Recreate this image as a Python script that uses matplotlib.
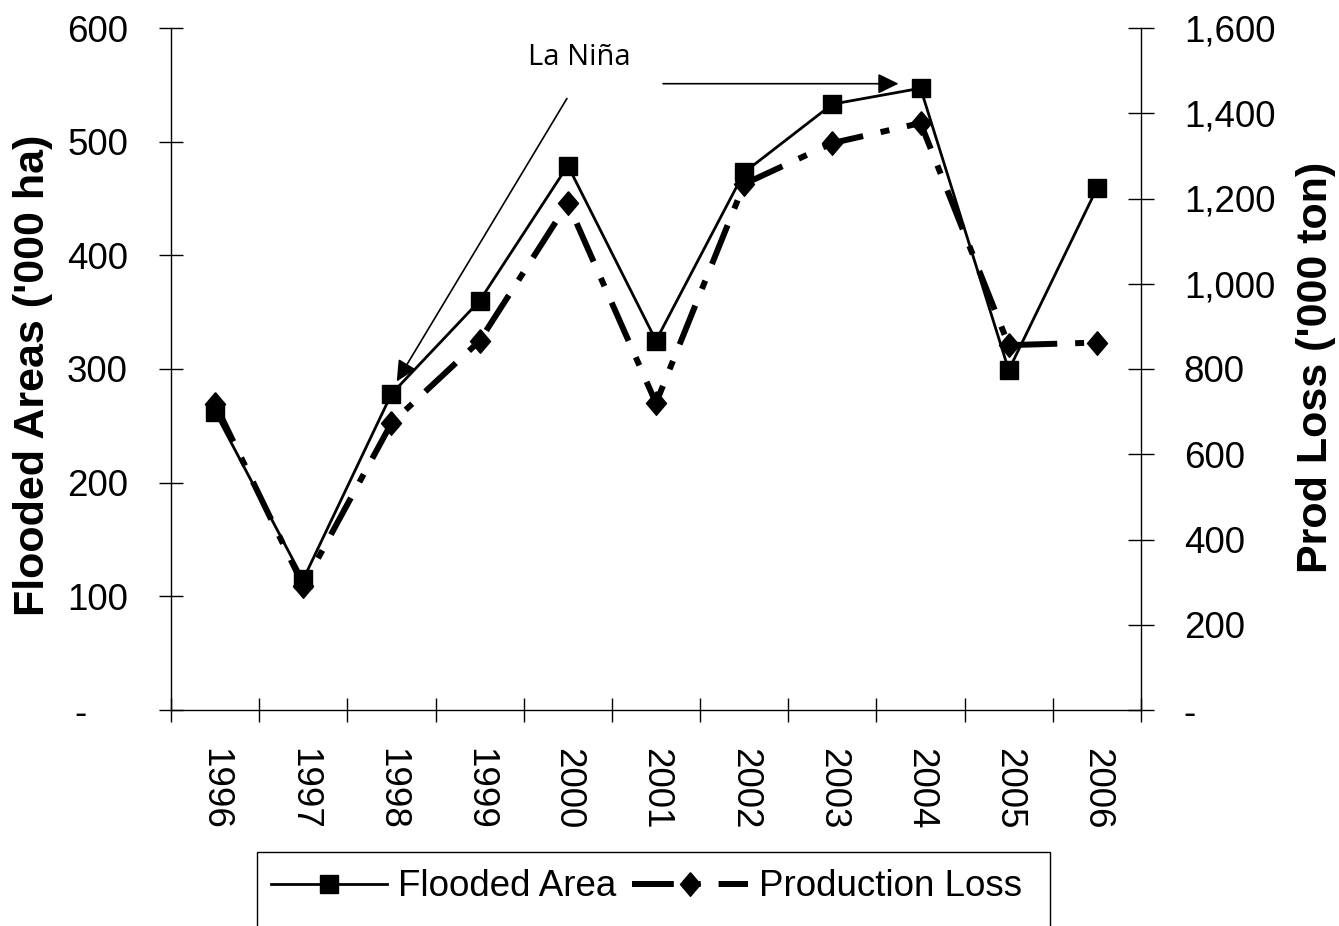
import numpy as np
import matplotlib
matplotlib.use("Agg")
import matplotlib.pyplot as plt
from matplotlib.patches import Rectangle
from matplotlib.ticker import FixedLocator, FuncFormatter

# Data
years = ["1996", "1997", "1998", "1999", "2000", "2001",
         "2002", "2003", "2004", "2005", "2006"]
flooded_area = [262, 115, 278, 360, 479, 325, 473, 533, 547, 299, 459]      # '000 ha
production_loss = [718, 292, 673, 866, 1189, 720, 1234, 1330, 1377, 856, 862]  # '000 ton
left_ticks = [0, 100, 200, 300, 400, 500, 600]
right_ticks = [0, 200, 400, 600, 800, 1000, 1200, 1400, 1600]

plt.rcParams['font.family'] = ['Liberation Sans', 'DejaVu Sans']

W, H = 1339, 926
fig = plt.figure(figsize=(W / 100, H / 100), dpi=100)
fig.patch.set_facecolor('white')

left_px, right_px, top_px, bottom_px = 171, 1141, 28, 710
ax = fig.add_axes([left_px / W, 1 - bottom_px / H,
                   (right_px - left_px) / W, (bottom_px - top_px) / H])
ax2 = ax.twinx()

x = np.arange(len(years))
ax.set_xlim(-0.5, len(years) - 0.5)
ax.set_ylim(0, 600)
ax2.set_ylim(0, 1600)

# Spines
for s in ['top', 'right']:
    ax.spines[s].set_visible(False)
for s in ['top', 'left', 'bottom']:
    ax2.spines[s].set_visible(False)
ax.spines['left'].set_linewidth(1.0)
ax.spines['bottom'].set_linewidth(1.0)
ax2.spines['right'].set_linewidth(1.0)

# Category axis: ticks between years, labels centred on years
ax.xaxis.set_major_locator(FixedLocator(np.arange(-0.5, len(years), 1.0)))
ax.xaxis.set_minor_locator(FixedLocator(x))
ax.xaxis.set_major_formatter(FuncFormatter(lambda v, p: ""))
ax.set_xticks(x, years, minor=True)
ax.tick_params(axis='x', which='major', direction='inout', length=17, width=1.0)
ax.tick_params(axis='x', which='minor', direction='out', length=0, pad=27,
               labelsize=26.5, labelrotation=-90)

# Value axes
ax.set_yticks(left_ticks)
ax.yaxis.set_major_formatter(FuncFormatter(
    lambda v, p: "-\u2007\u2007" if v == 0 else f"{v:,.0f}"))
ax.tick_params(axis='y', direction='inout', length=17, width=1.0,
               pad=22.5, labelsize=26.5)

ax2.set_yticks(right_ticks)
ax2.yaxis.set_major_formatter(FuncFormatter(
    lambda v, p: "-" if v == 0 else f"{v:,.0f}"))
ax2.tick_params(axis='y', direction='inout', length=18.5, width=1.0,
                pad=21.6, labelsize=26.5)

# Series
diamond = [(0, 1), (0.85, 0), (0, -1), (-0.85, 0), (0, 1)]
l1, = ax.plot(x, flooded_area, color='black', lw=2.0, marker='s',
              markersize=12.5, label='Flooded Area', clip_on=False)
l2, = ax2.plot(x, production_loss, color='black', lw=4.3, marker=diamond,
               markersize=17, dashes=(7, 3, 1.5, 3),
               label='Production Loss', clip_on=False)

# Axis titles
ax.set_ylabel("Flooded Areas ('000 ha)", fontsize=31, fontweight='bold')
ax.yaxis.label.set_va('center')
ax.yaxis.set_label_coords((33 - left_px) / (right_px - left_px),
                          (bottom_px - 375) / (bottom_px - top_px))
ax2.set_ylabel("Prod Loss ('000 ton)", fontsize=31, fontweight='bold',
               rotation=90)
ax2.yaxis.label.set_va('center')
ax2.yaxis.set_label_coords((1316 - left_px) / (right_px - left_px),
                           (bottom_px - 367) / (bottom_px - top_px))

# La Niña annotation
arrow_kw = dict(arrowstyle='-|>,head_length=0.45,head_width=0.22',
                color='black', lw=1.2, mutation_scale=28,
                shrinkA=0, shrinkB=0)
ax.annotate("", xy=(2.06, 289), xytext=(3.99, 538), arrowprops=arrow_kw,
            annotation_clip=False)
ax.annotate("", xy=(7.75, 551), xytext=(5.08, 551), arrowprops=arrow_kw,
            annotation_clip=False)
ax.text(4.13, 574, "La Niña", ha='center', va='center', fontsize=21,
        family=['Open Sans', 'DejaVu Sans'])

# Legend
fig.legend(handles=[l1, l2], ncol=2, frameon=False, fontsize=26.5,
           handlelength=3.15, handletextpad=0.3, columnspacing=0.43,
           loc='center left', bbox_to_anchor=(271 / W, 1 - 887 / H),
           bbox_transform=fig.transFigure, borderpad=0, borderaxespad=0)
fig.patches.append(Rectangle((257 / W, -0.05), (1050 - 257) / W,
                             (1 - 852 / H) + 0.05, transform=fig.transFigure,
                             fill=False, ec='black', lw=1.0))

fig.savefig("out.png", dpi=100, facecolor='white')
